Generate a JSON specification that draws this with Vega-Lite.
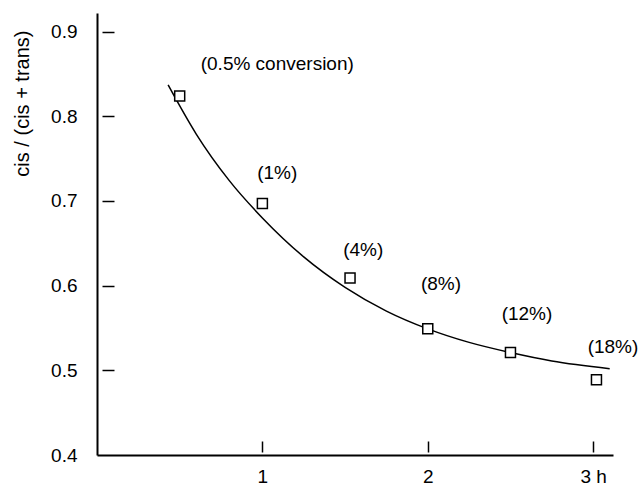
{
  "$schema": "https://vega.github.io/schema/vega-lite/v6.json",
  "width": 516,
  "height": 442,
  "autosize": "none",
  "padding": {"left": 97, "top": 13, "right": 27, "bottom": 34},
  "background": "white",
  "config": {
    "view": {"stroke": null},
    "font": "Liberation Sans",
    "axis": {"grid": false, "labelFont": "Liberation Sans", "titleFont": "Liberation Sans", "labelColor": "black", "titleColor": "black", "domainColor": "black", "tickColor": "black", "labelFontSize": 19, "titleFontSize": 20, "titleFontWeight": "normal", "labelFlush": false}
  },
  "datasets": {
    "curve": [
      {"t": 0.43, "r": 0.837},
      {"t": 0.6, "r": 0.779},
      {"t": 0.8, "r": 0.724},
      {"t": 1.0, "r": 0.680},
      {"t": 1.25, "r": 0.634},
      {"t": 1.5, "r": 0.598},
      {"t": 1.75, "r": 0.570},
      {"t": 2.0, "r": 0.549},
      {"t": 2.25, "r": 0.533},
      {"t": 2.5, "r": 0.521},
      {"t": 2.75, "r": 0.511},
      {"t": 3.1, "r": 0.502}
    ],
    "points": [
      {"t": 0.5, "r": 0.824, "label": "(0.5% conversion)", "lt": 1.09, "lr": 0.862},
      {"t": 1.0, "r": 0.697, "label": "(1%)", "lt": 1.09, "lr": 0.733},
      {"t": 1.53, "r": 0.609, "label": "(4%)", "lt": 1.61, "lr": 0.642},
      {"t": 2.0, "r": 0.549, "label": "(8%)", "lt": 2.08, "lr": 0.602},
      {"t": 2.5, "r": 0.521, "label": "(12%)", "lt": 2.6, "lr": 0.567},
      {"t": 3.02, "r": 0.489, "label": "(18%)", "lt": 3.12, "lr": 0.527}
    ]
  },
  "resolve": {"axis": {"x": "independent", "y": "independent"}},
  "layer": [
    {
      "data": {"name": "curve"},
      "mark": {"type": "line", "color": "black", "strokeWidth": 1.5, "interpolate": "monotone"},
      "encoding": {
        "x": {"field": "t", "type": "quantitative", "scale": {"domain": [0, 3.12], "nice": false, "zero": false},
          "axis": {"orient": "bottom", "values": [1, 2, 3], "ticks": false, "domainWidth": 2, "labelPadding": 12, "labelExpr": "datum.value == 3 ? '3 h' : datum.label", "title": null}},
        "y": {"field": "r", "type": "quantitative", "scale": {"domain": [0.4, 0.922], "nice": false, "zero": false},
          "axis": {"orient": "left", "values": [0.4, 0.5, 0.6, 0.7, 0.8, 0.9], "format": ".1f", "ticks": false, "domainWidth": 2, "labelPadding": 20, "title": "cis / (cis + trans)", "titleAnchor": "end", "titleAlign": "right", "titleAngle": -90, "titleBaseline": "middle", "titleX": -75, "titleY": 17}}
      }
    },
    {
      "data": {"name": "points"},
      "mark": {"type": "point", "shape": "square", "size": 100, "filled": false, "fill": "white", "fillOpacity": 1, "stroke": "black", "strokeWidth": 1.5, "opacity": 1},
      "encoding": {
        "x": {"field": "t", "type": "quantitative",
          "axis": {"orient": "bottom", "values": [1, 2, 3], "domain": false, "labels": false, "ticks": true, "tickSize": -11, "tickWidth": 1.5, "offset": -3, "title": null}},
        "y": {"field": "r", "type": "quantitative",
          "axis": {"orient": "left", "values": [0.5, 0.6, 0.7, 0.8, 0.9], "domain": false, "labels": false, "ticks": true, "tickSize": -12, "tickWidth": 1.5, "offset": -5, "title": null}}
      }
    },
    {
      "data": {"name": "points"},
      "mark": {"type": "text", "font": "Liberation Sans", "fontSize": 19, "color": "black", "align": "center", "baseline": "middle"},
      "encoding": {
        "x": {"field": "lt", "type": "quantitative", "axis": null},
        "y": {"field": "lr", "type": "quantitative", "axis": null},
        "text": {"field": "label"}
      }
    }
  ]
}
